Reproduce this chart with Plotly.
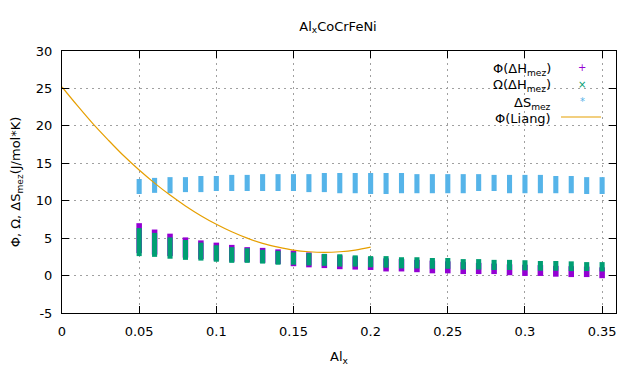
import plotly.graph_objects as go

# composition Al_x
al_x = [0.05, 0.06, 0.07, 0.08, 0.09, 0.10, 0.11, 0.12, 0.13, 0.14, 0.15,
        0.16, 0.17, 0.18, 0.19, 0.20, 0.21, 0.22, 0.23, 0.24, 0.25, 0.26,
        0.27, 0.28, 0.29, 0.30, 0.31, 0.32, 0.33, 0.34, 0.35]

# Phi(dH_mez) spread (min / max at each composition)
phi_low = [3.0, 2.8, 2.6, 2.4, 2.2, 2.0, 1.85, 1.8, 1.7, 1.55, 1.25,
           1.1, 1.0, 0.85, 0.8, 0.75, 0.55, 0.55, 0.45, 0.3, 0.3, 0.2,
           0.2, 0.2, 0.05, -0.05, -0.05, -0.15, -0.2, -0.2, -0.35]
phi_high = [7.0, 6.15, 5.6, 5.1, 4.7, 4.4, 4.1, 3.8, 3.7, 3.5, 3.35,
            3.1, 2.85, 2.7, 2.55, 2.45, 2.3, 2.2, 2.1, 2.0, 1.9, 1.8,
            1.7, 1.6, 1.5, 1.45, 1.4, 1.3, 1.25, 1.2, 1.1]

# Omega(dH_mez) spread
omega_low = [2.6, 2.5, 2.25, 2.1, 2.0, 1.85, 1.7, 1.7, 1.6, 1.45, 1.45,
             1.35, 1.3, 1.2, 1.2, 1.1, 1.05, 0.95, 0.95, 0.9, 0.9, 0.8,
             0.8, 0.75, 0.75, 0.7, 0.65, 0.65, 0.6, 0.6, 0.55]
omega_high = [6.35, 5.7, 5.1, 4.75, 4.4, 4.05, 3.8, 3.65, 3.45, 3.3, 3.1,
              3.0, 2.9, 2.85, 2.7, 2.6, 2.6, 2.45, 2.45, 2.35, 2.35, 2.2,
              2.2, 2.1, 2.1, 2.05, 1.95, 1.95, 1.9, 1.8, 1.8]

# dS_mez spread
ds_low = [10.9, 11.05, 11.0, 11.15, 11.15, 11.3, 11.3, 11.3, 11.3, 11.3, 11.3,
          11.15, 11.15, 11.0, 11.0, 10.9, 10.9, 11.0, 11.0, 11.0, 11.0, 11.0,
          11.3, 11.3, 11.0, 11.0, 11.0, 11.0, 11.0, 10.9, 10.9]
ds_high = [12.9, 13.05, 13.15, 13.15, 13.3, 13.3, 13.45, 13.45, 13.55, 13.55, 13.55,
           13.55, 13.7, 13.7, 13.7, 13.7, 13.7, 13.7, 13.55, 13.55, 13.55, 13.55,
           13.55, 13.45, 13.45, 13.45, 13.45, 13.3, 13.3, 13.15, 13.15]

# Phi(Liang) curve
liang_x = [0.00, 0.01, 0.02, 0.03, 0.04, 0.05, 0.06, 0.07, 0.08, 0.09, 0.10,
           0.11, 0.12, 0.13, 0.14, 0.15, 0.16, 0.17, 0.18, 0.19, 0.20]
liang_y = [25.2, 22.7, 20.3, 18.1, 16.0, 14.1, 12.35, 10.75, 9.3, 8.0, 6.85,
           5.85, 5.0, 4.3, 3.8, 3.4, 3.18, 3.1, 3.18, 3.4, 3.8]

x_ticks = [0, 0.05, 0.1, 0.15, 0.2, 0.25, 0.3, 0.35]
x_labels = ["0", "0.05", "0.1", "0.15", "0.2", "0.25", "0.3", "0.35"]
y_ticks = [-5, 0, 5, 10, 15, 20, 25, 30]
y_labels = ["-5", "0", "5", "10", "15", "20", "25", "30"]

PURPLE = "#9400d3"
GREEN = "#009e73"
BLUE = "#56b4e9"
ORANGE = "#e69f00"

fig = go.Figure()

fig.add_trace(go.Bar(
    x=al_x, base=phi_low, y=[h - l for h, l in zip(phi_high, phi_low)],
    width=0.0036, marker=dict(color=PURPLE, line=dict(width=0)),
    showlegend=False))
fig.add_trace(go.Bar(
    x=al_x, base=omega_low, y=[h - l for h, l in zip(omega_high, omega_low)],
    width=0.0033, marker=dict(color=GREEN, line=dict(width=0)),
    showlegend=False))
fig.add_trace(go.Bar(
    x=al_x, base=ds_low, y=[h - l for h, l in zip(ds_high, ds_low)],
    width=0.0033, marker=dict(color=BLUE, line=dict(width=0)),
    showlegend=False))
fig.add_trace(go.Scatter(
    x=liang_x, y=liang_y, mode="lines", line=dict(color=ORANGE, width=1.2, shape="spline"),
    showlegend=False))

# page has an 8px body margin, so the figure is laid out 8px smaller
W, H = 632, 376
OFF = 8

# gnuplot style key: text on the left, sample on the right (page pixel -> paper)
def px_x(p):
    return (p - 62) / 554.0

def px_y(p):
    return (313 - p) / 262.0

key_rows = [
    ("Φ(ΔH<sub>mez</sub>)", "+", PURPLE, 67),
    ("Ω(ΔH<sub>mez</sub>)", "×", GREEN, 84),
    ("ΔS<sub>mez</sub>", "*", BLUE, 101),
]
annotations = []
for label, sym, col, yy in key_rows:
    annotations.append(dict(text=label, xref="paper", yref="paper", x=px_x(553), y=px_y(yy + 2),
                            xanchor="right", yanchor="middle", showarrow=False,
                            font=dict(size=13, color="black")))
    annotations.append(dict(text=sym, xref="paper", yref="paper", x=px_x(582), y=px_y(yy),
                            xanchor="center", yanchor="middle", showarrow=False,
                            font=dict(size=10, color=col)))
annotations.append(dict(text="Φ(Liang)", xref="paper", yref="paper", x=px_x(553), y=px_y(118),
                        xanchor="right", yanchor="middle", showarrow=False,
                        font=dict(size=13, color="black")))

fig.add_shape(type="line", xref="paper", yref="paper", x0=px_x(561), x1=px_x(601),
              y0=px_y(117), y1=px_y(117), line=dict(color=ORANGE, width=1.2))

fig.update_layout(
    width=W, height=H,
    margin=dict(l=62 - OFF, r=24, t=51 - OFF, b=71, autoexpand=False),
    paper_bgcolor="white", plot_bgcolor="white",
    font=dict(family="DejaVu Sans", size=12, color="black"),
    barmode="overlay",
    title=dict(text="Al<sub>x</sub>CoCrFeNi", x=(338 - OFF) / W, xanchor="center",
               y=1 - (26 - OFF) / H, yanchor="middle", font=dict(size=13)),
    annotations=annotations,
    xaxis=dict(range=[0, 0.359], tickvals=x_ticks, ticktext=x_labels,
               ticks="inside", ticklen=7, tickcolor="black", showline=True,
               linecolor="black", linewidth=1, mirror="ticks", automargin=False,
               showgrid=True, gridcolor="#a0a0a0", griddash="2px,4px", gridwidth=1,
               zeroline=False, ticklabelstandoff=6, tickfont=dict(size=13),
               title=dict(text="Al<sub>x</sub>", standoff=14, font=dict(size=13))),
    yaxis=dict(range=[-5, 30], tickvals=y_ticks, ticktext=y_labels,
               ticks="inside", ticklen=7, tickcolor="black", showline=True,
               linecolor="black", linewidth=1, mirror="ticks", automargin=False,
               showgrid=True, gridcolor="#a0a0a0", griddash="2px,4px", gridwidth=1,
               zeroline=False, ticklabelstandoff=6, tickfont=dict(size=13),
               title=dict(text="Φ, Ω, ΔS<sub>mez</sub>(J/mol*K)", standoff=12,
                          font=dict(size=13))),
)

fig.write_html("out.html")
